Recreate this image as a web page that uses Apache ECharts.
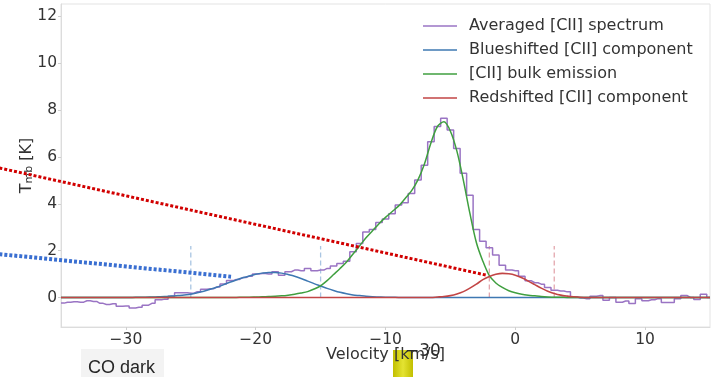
<!DOCTYPE html>
<html><head><meta charset="utf-8">
<script src="https://cdn.jsdelivr.net/npm/echarts@6/dist/echarts.min.js"></script>
<style>html,body{margin:0;padding:0;background:#fff}#c{width:720px;height:377px}</style>
</head><body><div id="c"></div>
<script>
// Velocity grid (km/s)
const velocity = [
 -35,-34.5,-34,-33.5,-33,-32.5,-32,-31.5,-31,-30.5,
 -30,-29.5,-29,-28.5,-28,-27.5,-27,-26.5,-26,-25.5,
 -25,-24.5,-24,-23.5,-23,-22.5,-22,-21.5,-21,-20.5,
 -20,-19.5,-19,-18.5,-18,-17.5,-17,-16.5,-16,-15.5,
 -15,-14.5,-14,-13.5,-13,-12.5,-12,-11.5,-11,-10.5,
 -10,-9.5,-9,-8.5,-8,-7.5,-7,-6.5,-6,-5.5,
 -5,-4.5,-4,-3.5,-3,-2.5,-2,-1.5,-1,-0.5,
 0,0.5,1,1.5,2,2.5,3,3.5,4,4.5,
 5,5.5,6,6.5,7,7.5,8,8.5,9,9.5,
 10,10.5,11,11.5,12,12.5,13,13.5,14,14.5,
 15
];
// Averaged [CII] spectrum (K)
const spectrum = [
 -0.24,-0.2,-0.18,-0.2,-0.14,-0.17,-0.25,-0.3,-0.27,-0.37,
 -0.36,-0.45,-0.42,-0.33,-0.25,-0.1,-0.07,0.05,0.2,0.2,
 0.18,0.25,0.35,0.37,0.45,0.58,0.72,0.77,0.85,0.91,
 1.0,1.02,1.0,1.1,0.95,1.1,1.17,1.14,1.24,1.14,
 1.17,1.24,1.34,1.45,1.55,1.95,2.3,2.8,2.9,3.2,
 3.35,3.58,3.95,4.05,4.44,5.02,5.65,6.65,7.3,7.65,
 7.15,6.36,5.3,4.37,2.9,2.4,2.12,1.81,1.38,1.17,
 1.14,0.91,0.71,0.63,0.57,0.43,0.31,0.28,0.24,0.03,
 -0.02,-0.05,0.05,0.08,-0.12,0.0,-0.2,-0.15,-0.26,-0.05,
 -0.14,-0.1,-0.05,-0.21,-0.21,-0.05,0.08,0.0,-0.09,0.14,
 0.0
];
// Blueshifted [CII] component (K)
const blueComp = [
 0,0,0,0,0,0,0,0,0,0,
 0,0,0.01,0.01,0.02,0.03,0.04,0.06,0.08,0.11,
 0.14,0.2,0.27,0.35,0.44,0.54,0.65,0.75,0.84,0.92,
 0.99,1.04,1.07,1.07,1.04,0.98,0.91,0.81,0.7,0.59,
 0.49,0.39,0.3,0.22,0.16,0.11,0.08,0.05,0.03,0.02,
 0.01,0.01,0,0,0,0,0,0,0,0,
 0,0,0,0,0,0,0,0,0,0,
 0,0,0,0,0,0,0,0,0,0,
 0,0,0,0,0,0,0,0,0,0,
 0,0,0,0,0,0,0,0,0,0,
 0
];
// [CII] bulk emission (K)
const bulkComp = [
 0,0,0,0,0,0,0,0,0,0,
 0,0,0,0,0,0,0,0,0,0,
 0,0,0,0,0,0,0,0,0.01,0.01,
 0.02,0.03,0.04,0.05,0.07,0.1,0.14,0.19,0.25,0.36,
 0.5,0.72,0.98,1.24,1.52,1.86,2.2,2.55,2.85,3.15,
 3.42,3.66,3.9,4.22,4.55,5.02,5.7,6.6,7.3,7.5,
 7.1,6.25,5.0,3.6,2.35,1.55,0.93,0.62,0.43,0.29,
 0.2,0.14,0.1,0.07,0.04,0.02,0.01,0.01,0,0,
 0,0,0,0,0,0,0,0,0,0,
 0,0,0,0,0,0,0,0,0,0,
 0
];
// Redshifted [CII] component (K)
const redComp = [
 0,0,0,0,0,0,0,0,0,0,
 0,0,0,0,0,0,0,0,0,0,
 0,0,0,0,0,0,0,0,0,0,
 0,0,0,0,0,0,0,0,0,0,
 0,0,0,0,0,0,0,0,0,0,
 0,0,0,0,0,0,0,0,0.02,0.04,
 0.08,0.15,0.25,0.4,0.57,0.76,0.9,0.99,1.03,1.01,
 0.95,0.84,0.7,0.55,0.4,0.27,0.17,0.1,0.06,0.03,
 0.01,0,0,0,0,0,0,0,0,0,
 0,0,0,0,0,0,0,0,0,0,
 0
];
// Vertical guide markers (velocity, height)
const blueGuides = [-25, -15];
const redGuides = [-2, 3];
const guideHeight = 2.2;
// Dotted annotation lines (endpoints in data units)
const redDottedX = [-39.75, -2.2];
const redDottedY = [5.53, 0.95];
const blueDottedX = [-39.75, -21.9];
const blueDottedY = [1.85, 0.89];
// Tick labels
const xTicks = [-30, -20, -10, 0, 10];
const yTicks = [0, 2, 4, 6, 8, 10, 12];
const legendNames = ['Averaged [CII] spectrum', 'Blueshifted [CII] component', '[CII] bulk emission', 'Redshifted [CII] component'];

const zip = (xs, ys) => xs.map((x, i) => [x, ys[i]]);
const fmt = v => v < 0 ? '\u2212' + Math.abs(v) : String(v);
const FONT = 'DejaVu Sans';

const guideSeries = [];
blueGuides.forEach(v => guideSeries.push({
  type: 'line', data: [[v, 0], [v, guideHeight]], symbol: 'none', silent: true, z: 1,
  lineStyle: { color: '#a9c5e2', width: 1.3, type: [5, 3] }
}));
redGuides.forEach(v => guideSeries.push({
  type: 'line', data: [[v, 0], [v, guideHeight]], symbol: 'none', silent: true, z: 1,
  lineStyle: { color: '#e3a6ad', width: 1.3, type: [5, 3] }
}));

const baseGraphic = [
  { id: 'cobg', type: 'rect', shape: { x: 81, y: 349, width: 83, height: 28 }, style: { fill: '#f3f3f3' }, z: -1 },
  { id: 'cotx', type: 'text', x: 88, y: 359, style: { text: 'CO dark', fontFamily: 'Liberation Sans', fontSize: 18, fill: '#262626', verticalAlign: 'top' }, z: 1 },
  { id: 'ybox', type: 'rect', shape: { x: 393, y: 350, width: 20, height: 27 },
    style: { fill: new echarts.graphic.LinearGradient(0, 0, 1, 0, [
      { offset: 0, color: '#c2bf00' }, { offset: 0.5, color: '#e4e332' }, { offset: 1, color: '#c2bf00' }]) }, z: -1 },
  { id: 'm30', type: 'text', x: 405, y: 343, style: { text: '\u221230', fontFamily: FONT, fontSize: 17, fill: '#2a2a2a', verticalAlign: 'top' }, z: 2 }
];

const option = {
  animation: false,
  backgroundColor: '#ffffff',
  grid: { left: 61, right: 10, top: 4, bottom: 50, show: true, borderColor: '#e3e3e3', borderWidth: 1 },
  xAxis: {
    type: 'value', min: -35, max: 15,
    name: 'Velocity [km/s]', nameLocation: 'middle', nameGap: 20, nameMoveOverlap: false,
    nameTextStyle: { fontFamily: FONT, fontSize: 16, color: '#333' },
    axisLine: { show: true, onZero: false, lineStyle: { color: '#dcdcdc' } },
    axisTick: { show: true, length: 3, lineStyle: { color: '#cfcfcf' }, customValues: xTicks },
    axisLabel: { fontFamily: FONT, fontSize: 15.5, color: '#333', margin: 5, formatter: fmt, customValues: xTicks },
    splitLine: { show: false }
  },
  yAxis: {
    type: 'value', min: -1.26, max: 12.53,
    name: 'T{sub|mb} [K]', nameLocation: 'middle', nameGap: 26, nameMoveOverlap: false,
    nameTextStyle: { fontFamily: FONT, fontSize: 16, color: '#333',
      rich: { sub: { fontFamily: FONT, fontSize: 11, color: '#333', verticalAlign: 'bottom', padding: [6, 0, 0, 0] } } },
    axisLine: { show: true, onZero: false, lineStyle: { color: '#dcdcdc' } },
    axisTick: { show: true, length: 3, lineStyle: { color: '#cfcfcf' }, customValues: yTicks },
    axisLabel: { fontFamily: FONT, fontSize: 15.5, color: '#333', margin: 4, formatter: fmt, customValues: yTicks },
    splitLine: { show: false }
  },
  legend: {
    data: legendNames.map(n => ({ name: n, icon: 'rect' })),
    orient: 'vertical', left: 423, top: 17, padding: 0,
    itemWidth: 34, itemHeight: 1.6, itemGap: 6,
    textStyle: { fontFamily: FONT, fontSize: 16, color: '#333', lineHeight: 18, padding: [0, 0, 0, 7] }
  },
  graphic: baseGraphic,
  series: [
    ...guideSeries,
    {
      name: legendNames[0], type: 'line', step: 'middle', data: zip(velocity, spectrum),
      symbol: 'none', z: 2, lineStyle: { color: '#9a74c4', width: 1.5 }, itemStyle: { color: '#9a74c4' }
    },
    {
      name: legendNames[1], type: 'line', smooth: 0.3, data: zip(velocity, blueComp),
      symbol: 'none', z: 3, lineStyle: { color: '#3e78b2', width: 1.5 }, itemStyle: { color: '#3e78b2' }
    },
    {
      name: legendNames[2], type: 'line', smooth: 0.3, data: zip(velocity, bulkComp),
      symbol: 'none', z: 4, lineStyle: { color: '#3f9f3f', width: 1.5 }, itemStyle: { color: '#3f9f3f' }
    },
    {
      name: legendNames[3], type: 'line', smooth: 0.3, data: zip(velocity, redComp),
      symbol: 'none', z: 5, lineStyle: { color: '#c24545', width: 1.6 }, itemStyle: { color: '#c24545' }
    }
  ]
};
const chart = echarts.init(document.getElementById('c'), null, { renderer: 'canvas' });
chart.setOption(option);
// Dotted annotation lines extend past the plot's left edge: map their data endpoints through the chart's scales
const toPx = pts => pts.map(pt => chart.convertToPixel({ gridIndex: 0 }, pt));
chart.setOption({
  graphic: baseGraphic.concat([
    { id: 'reddot', type: 'polyline', shape: { points: toPx(zip(redDottedX, redDottedY)) },
      style: { stroke: '#d10000', lineWidth: 3, lineDash: [3, 2], fill: null }, z: 10 },
    { id: 'bluedot', type: 'polyline', shape: { points: toPx(zip(blueDottedX, blueDottedY)) },
      style: { stroke: '#3a6fd1', lineWidth: 4, lineDash: [3, 2], fill: null }, z: 10 }
  ])
});
</script>
</body></html>
